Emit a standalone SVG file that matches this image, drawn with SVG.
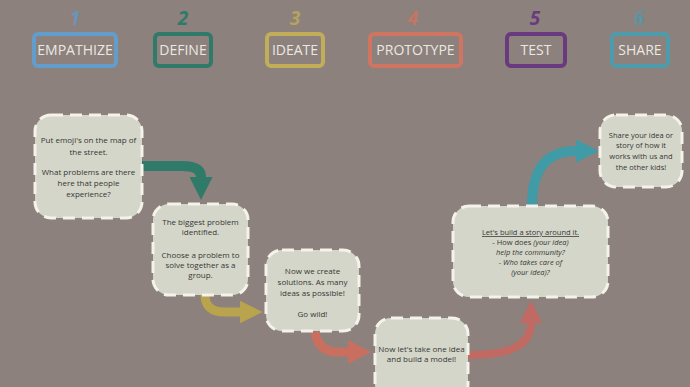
<svg xmlns="http://www.w3.org/2000/svg" width="690" height="387" viewBox="0 0 690 387">
<style>
.hdr{fill:none;stroke-width:4}
.hl{font-family:"Open Sans","DejaVu Sans",sans-serif;font-size:14px;fill:#ebe8e2;text-anchor:middle}
.num{font-family:"Open Sans","DejaVu Sans",sans-serif;font-size:19px;font-weight:bold;font-style:italic;text-anchor:middle}
.fade{opacity:0.75}
.box{fill:#d4d6ca;stroke:#f4f2ea;stroke-width:3;stroke-dasharray:12 7}
.t{font-family:"Open Sans","DejaVu Sans",sans-serif;font-size:8px;fill:#363634;text-anchor:middle}
.s{font-size:7.5px}
.i{font-style:italic}
.arr{fill:none;stroke-linecap:butt}
</style>
<defs>
<marker id="ahTeal" viewBox="0 0 10 10" refX="0" refY="5" markerWidth="2.3" markerHeight="2.3" orient="auto" markerUnits="strokeWidth"><path d="M0,0 L10,5 L0,10 z" fill="#2f7a69"/></marker>
<marker id="ahYel" viewBox="0 0 10 10" refX="0" refY="5" markerWidth="2.5" markerHeight="2.5" orient="auto" markerUnits="strokeWidth"><path d="M0,0 L10,5 L0,10 z" fill="#b9a34d"/></marker>
<marker id="ahRed" viewBox="0 0 10 10" refX="0" refY="5" markerWidth="2.6" markerHeight="2.6" orient="auto" markerUnits="strokeWidth"><path d="M0,0 L10,5 L0,10 z" fill="#c96f60"/></marker>
<marker id="ahRed2" viewBox="0 0 10 10" refX="0" refY="5" markerWidth="2.8" markerHeight="2.8" orient="auto" markerUnits="strokeWidth"><path d="M0,0 L10,5 L0,10 z" fill="#c06a63"/></marker>
<marker id="ahShare" viewBox="0 0 10 10" refX="0" refY="5" markerWidth="2.3" markerHeight="2.3" orient="auto" markerUnits="strokeWidth"><path d="M0,0 L10,5 L0,10 z" fill="#409ba6"/></marker>
</defs>
<rect width="690" height="387" fill="#8c817c"/>

<g id="header">
<g id="h-empathize">
<text class="num fade" x="75" y="25" fill="#5f9bcf">1</text>
<rect class="hdr" x="34" y="34" width="82" height="32" rx="4" stroke="#639dcc"/>
<text class="hl" x="75" y="55">EMPATHIZE</text>
</g>
<g id="h-define">
<text class="num" x="183" y="25" fill="#2f7a69">2</text>
<rect class="hdr" x="155" y="34" width="56" height="32" rx="4" stroke="#2f7a69"/>
<text class="hl" x="183" y="55">DEFINE</text>
</g>
<g id="h-ideate">
<text class="num fade" x="295" y="25" fill="#c4ae55">3</text>
<rect class="hdr" x="267" y="34" width="56" height="32" rx="4" stroke="#c2ad58"/>
<text class="hl" x="295" y="55">IDEATE</text>
</g>
<g id="h-prototype">
<text class="num fade" x="413" y="25" fill="#d4745f">4</text>
<rect class="hdr" x="370" y="34" width="91" height="32" rx="4" stroke="#d07562"/>
<text class="hl" x="415.5" y="55">PROTOTYPE</text>
</g>
<g id="h-test">
<text class="num" x="535" y="25" fill="#6a3a7e">5</text>
<rect class="hdr" x="507" y="34" width="58" height="32" rx="4" stroke="#6a3a7e"/>
<text class="hl" x="536" y="55">TEST</text>
</g>
<g id="h-share">
<text class="num fade" x="639" y="25" fill="#4d9bab">6</text>
<rect class="hdr" x="612" y="34" width="56" height="32" rx="4" stroke="#4d9bab"/>
<text class="hl" x="640" y="55">SHARE</text>
</g>
</g>

<g id="connectors">
<path class="arr" d="M142,166 H182 Q201,166 201,177" stroke="#2f7a69" stroke-width="10" marker-end="url(#ahTeal)"/>
<path class="arr" d="M205,295 Q205,312 225,312 H240" stroke="#b9a34d" stroke-width="9" marker-end="url(#ahYel)"/>
<path class="arr" d="M315,332 Q318,352 338,352 H348" stroke="#c96f60" stroke-width="9" marker-end="url(#ahRed)"/>
<path class="arr" d="M468,355 C500,355 531,350 531,323" stroke="#c06a63" stroke-width="8" marker-end="url(#ahRed2)"/>
<path class="arr" d="M532,206 C532,170 546,151 576,151" stroke="#409ba6" stroke-width="10" marker-end="url(#ahShare)"/>
</g>

<g id="node1">
<rect class="box" x="35" y="115" width="107" height="103" rx="16"/>
<text class="t" x="88.5" y="143">Put emoji's on the map of</text>
<text class="t" x="88.5" y="155">the street.</text>
<text class="t" x="88.5" y="175">What problems are there</text>
<text class="t" x="88.5" y="186">here that people</text>
<text class="t" x="88.5" y="197">experience?</text>
</g>

<g id="node2">
<rect class="box" x="153" y="204" width="95" height="91" rx="16"/>
<text class="t" x="200.5" y="225">The biggest problem</text>
<text class="t" x="200.5" y="235">identified.</text>
<text class="t" x="200.5" y="258">Choose a problem to</text>
<text class="t" x="200.5" y="268">solve together as a</text>
<text class="t" x="200.5" y="278">group.</text>
</g>

<g id="node3">
<rect class="box" x="266" y="250" width="93" height="81" rx="16"/>
<text class="t" x="312.5" y="274">Now we create</text>
<text class="t" x="312.5" y="285">solutions. As many</text>
<text class="t" x="312.5" y="296">ideas as possible!</text>
<text class="t" x="312.5" y="317">Go wild!</text>
</g>

<g id="node4">
<rect class="box" x="375" y="318" width="93" height="82" rx="16"/>
<text class="t" x="421.5" y="352">Now let's take one idea</text>
<text class="t" x="421.5" y="362">and build a model!</text>
</g>

<g id="node5">
<rect class="box" x="453" y="206" width="155" height="91" rx="16"/>
<text class="t s" x="530.5" y="235" text-decoration="underline">Let's build a story around it.</text>
<text class="t s" x="530.5" y="245">- How does <tspan class="i">(your idea)</tspan></text>
<text class="t s i" x="530.5" y="255">help the community?</text>
<text class="t s i" x="530.5" y="265">- Who takes care of</text>
<text class="t s i" x="530.5" y="275">(your idea)?</text>
</g>

<g id="node6">
<rect class="box" x="600" y="115" width="82" height="72" rx="16"/>
<text class="t s" x="641" y="138">Share your idea or</text>
<text class="t s" x="641" y="148">story of how it</text>
<text class="t s" x="641" y="159">works with us and</text>
<text class="t s" x="641" y="170">the other kids!</text>
</g>
</svg>
